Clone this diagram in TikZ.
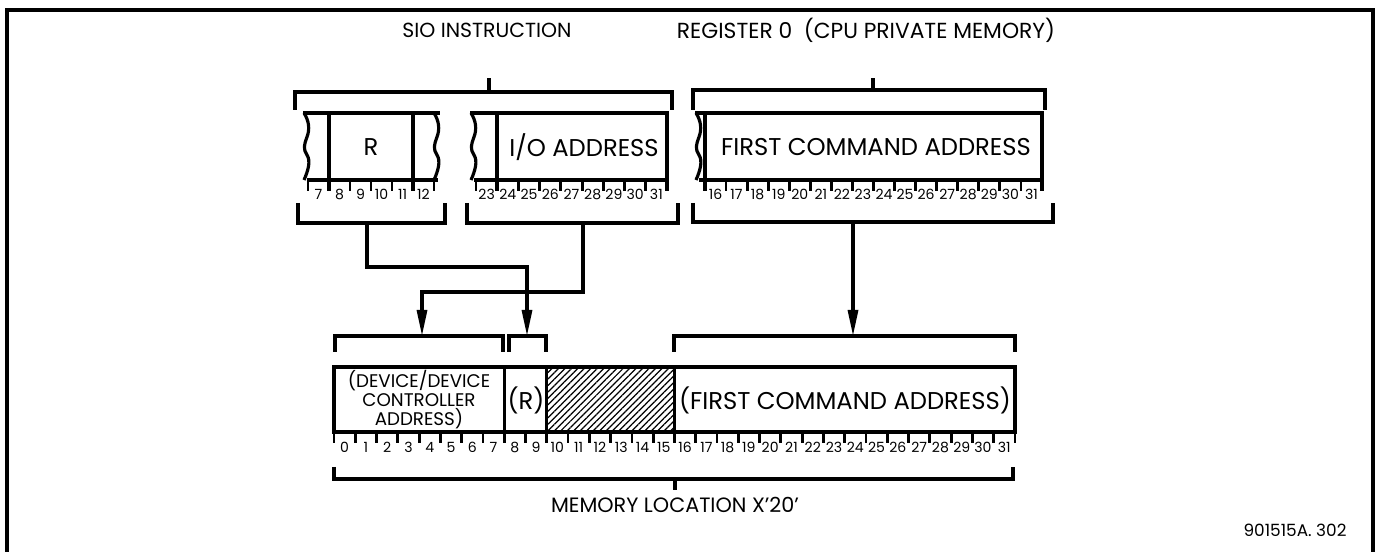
\documentclass[tikz,border=0pt]{standalone}
\usepackage{fontspec}
\setmainfont{Poppins}
\usetikzlibrary{arrows.meta, patterns.meta}

\begin{document}
\begin{tikzpicture}[
    x=0.01cm, y=-0.01cm,
    every node/.style={inner sep=0pt},
    edge/.style={line width=0.9pt},
    tick/.style={line width=0.8pt},
    bitno/.style={font=\fontsize{4.0}{5}\selectfont},
    title/.style={font=\fontsize{6.2}{7}\selectfont},
    fldtext/.style={font=\fontsize{6.9}{8}\selectfont},
    smalltext/.style={font=\fontsize{5.2}{5.4}\selectfont, align=center},
    flow/.style={line width=0.9pt, -{Triangle[length=2.6mm, width=1.0mm]}},
    hatch/.style={pattern={Lines[angle=45, distance=1.3pt, line width=0.35pt]}},
    tear/.pic={\draw[edge] (0,0) .. controls (5,8) and (6,16) .. (3,24)
                 .. controls (0,32) and (-1,36) .. (3,42)
                 .. controls (7,48) and (4,58) .. (0,67);},
]
\useasboundingbox (0,0) rectangle (1378,552);

% --- Rahmen ---------------------------------------------------------
\draw[line width=1.2pt] (7,552) -- (7,10) -- (1373,10) -- (1373,552);

% --- Überschriften --------------------------------------------------
\node[title, font=\fontsize{5.8}{7}\selectfont] (siotitle) at (487,30) {SIO INSTRUCTION};
\node[title] (regtitle) at (866,30) {REGISTER 0 \ (CPU PRIVATE MEMORY)};

% obere Klammern
\draw[edge] (295,110) |- (672,92) -- (672,110);
\draw[edge] (489,92) -- (489,78);
\draw[edge] (693,110) |- (1045,90) -- (1045,110);
\draw[edge] (873,90) -- (873,78);

% --- SIO: Feld R (Bits 7-12) ----------------------------------------
\draw[edge] (303,113) -- (440,113) (307,180) -- (438,180);
\pic at (304,113) {tear};
\pic at (434,113) {tear};
\draw[edge] (329,113) -- (329,191) (413,113) -- (413,191);
\foreach \k in {0,...,6}
    \draw[tick] ({308+21*\k},180) -- ++(0,11);
\foreach \n [count=\k from 0] in {7,...,12}
    \node[bitno] at ({318.5+21*\k},194) {\n};
\node[fldtext] (rfield) at (371,147) {R};

% --- SIO: I/O-Adresse (Bits 23-31) ----------------------------------
\draw[edge] (470,113) -- (667,113) -- (667,191) (474,180) -- (667,180);
\pic at (471,113) {tear};
\draw[edge] (497,113) -- (497,191);
\foreach \k in {0,...,9}
    \draw[tick] ({476+21.22*\k},180) -- ++(0,11);
\foreach \n [count=\k from 0] in {23,...,31}
    \node[bitno] at ({486.6+21.22*\k},194) {\n};
\node[fldtext] (iofield) at (584,147) {I/O ADDRESS};

% --- Register 0 (Bits 16-31) ----------------------------------------
\draw[edge] (695,113) -- (1042,113) -- (1042,191) (699,180) -- (1042,180);
\pic at (696,113) {tear};
\draw[edge] (705,113) -- (705,191);
\foreach \k in {0,...,16}
    \draw[tick] ({705+21.06*\k},180) -- ++(0,11);
\foreach \n [count=\k from 0] in {16,...,31}
    \node[bitno] at ({715.5+21.06*\k},194) {\n};
\node[fldtext] (regfield) at (876,147) {FIRST COMMAND ADDRESS};

% untere Klammern (oben)
\draw[edge] (298,203) |- (445,223) -- (445,203);
\draw[edge] (467,203) |- (678,223) -- (678,203);
\draw[edge] (693,203) |- (1053,222) -- (1053,203);
\coordinate (rstem)   at (367,223);
\coordinate (iostem)  at (583,223);
\coordinate (regstem) at (853,222);

% --- Klammern über dem Speicherwort ---------------------------------
\draw[edge] (335,352) |- (503,336) -- (503,352);
\draw[edge] (509,352) |- (546,336) -- (546,352);
\draw[edge] (674,352) |- (1015,336) -- (1015,352);
\coordinate (devtgt) at (422,336);
\coordinate (rtgt)   at (527,336);
\coordinate (cmdtgt) at (853,336);

% Verbindungen
\draw[flow] (rstem) -- ++(0,44) -| (rtgt);
\draw[flow] (iostem) -- ++(0,69) -| (devtgt);
\draw[flow] (regstem) -- (cmdtgt);

% --- Speicherstelle X'20' (Bits 0-31) -------------------------------
\fill[hatch] (546.8,367) rectangle (674.5,432);
\draw[edge] (334,367) rectangle (1015,432);
\draw[edge] (504.2,367) -- (504.2,443) (546.8,367) -- (546.8,443)
            (674.5,367) -- (674.5,443);
\foreach \k in {0,...,32}
    \draw[tick] ({334+21.28*\k},432) -- ++(0,11);
\foreach \n in {0,...,31}
    \node[bitno] at ({344.6+21.28*\n},447) {\n};
\node[smalltext] (devfield) at (419,400) {(DEVICE/DEVICE\\CONTROLLER\\ADDRESS)};
\node[fldtext] (rcopy) at (526,400) {(R)};
\node[fldtext] (cmdfield) at (845,400) {(FIRST COMMAND ADDRESS)};

% untere Klammer
\draw[edge] (334,467) |- (1013,479) -- (1013,467);
\draw[edge] (675,479) -- (675,490);
\node[title, font=\fontsize{5.9}{7}\selectfont] (memtitle) at (675,505) {MEMORY LOCATION X'20'};

\node[font=\fontsize{4.8}{5}\selectfont] (figno) at (1295,530) {901515A. 302};

\end{tikzpicture}
\end{document}
